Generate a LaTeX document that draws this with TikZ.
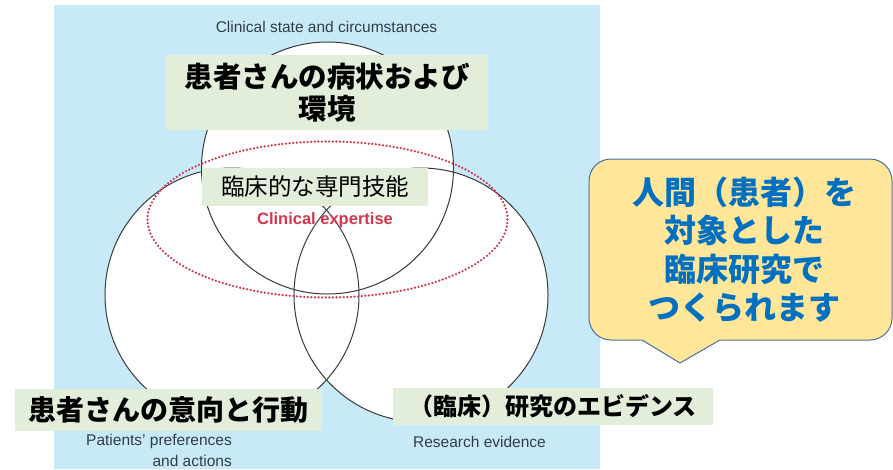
\documentclass[tikz,border=0pt]{standalone}
\usepackage{fontspec}
\setmainfont{Liberation Sans}
\newfontfamily\cjk{Noto Sans CJK JP}
\definecolor{bgblue}{HTML}{C8E9F8}
\definecolor{boxgreen}{HTML}{E2EEDA}
\definecolor{circline}{HTML}{3A3A3A}
\definecolor{dotred}{HTML}{D3364C}
\definecolor{engray}{HTML}{323D47}
\definecolor{callfill}{HTML}{FFE699}
\definecolor{callline}{HTML}{4A6FA5}
\definecolor{callblue}{HTML}{0070C0}
\tikzset{
  circ/.style={draw=circline, line width=1pt},
  reddots/.style={draw=dotred, line width=2.5pt, line cap=round, dash pattern=on 0pt off 3.6pt},
  greenbox/.style={fill=boxgreen, inner sep=0pt, align=center, text=black},
  enlabel/.style={text=engray, inner sep=0pt, font=\fontsize{15.5}{21}\selectfont},
  callbox/.style={fill=callfill, draw=callline, line width=1pt, rounded corners=22pt, inner sep=0pt}
}
\begin{document}
\begin{tikzpicture}[x=1pt,y=-1pt]
\useasboundingbox (0,0) rectangle (893,469);
\fill[bgblue] (54,5) rectangle (600,469);
% circle centres
\coordinate (cT) at (327.5,168);
\coordinate (cL) at (232,295);
\coordinate (cR) at (421,295);
\fill[white] (cT) circle[radius=126] (cL) circle[radius=127] (cR) circle[radius=127];
\draw[circ] (cT) circle[radius=126];
\draw[circ] (cL) circle[radius=127];
\draw[circ] (cR) circle[radius=127];
% clinical expertise ellipse
\coordinate (cE) at (327.5,219.5);
\draw[reddots] (cE) ellipse[x radius=180, y radius=78];
\node[text=dotred, inner sep=0pt, font=\bfseries\fontsize{16.5}{18}\selectfont] (expert) at (325,220.5) {Clinical expertise};
% labels
\node[enlabel] (clin) at (326.5,27) {Clinical state and circumstances};
\node[greenbox, minimum width=322pt, minimum height=75pt, font=\cjk\bfseries\fontsize{28.5}{31.5}\selectfont] (tbox) at (327,92.5) {患者さんの病状および\\環境};
\node[greenbox, minimum width=226pt, minimum height=38pt, font=\cjk\fontsize{23.5}{26}\selectfont] (mbox) at (315,187) {臨床的な専門技能};
\node[greenbox, minimum width=307pt, minimum height=42pt, font=\cjk\bfseries\fontsize{28}{30}\selectfont] (lbox) at (168.5,410) {患者さんの意向と行動};
\node[greenbox, minimum width=320pt, minimum height=37pt, font=\cjk\bfseries\fontsize{24}{26}\selectfont] (rbox) at (553,406.5) {（臨床）研究のエビデンス};
\node[enlabel, align=right, anchor=north east] (pat) at (232,434) {Patients' preferences\\and actions};
\node[enlabel] (res) at (479.5,442) {Research evidence};
% callout
\node[callbox, minimum width=303pt, minimum height=181pt] (callout) at (740.5,249.5) {};
\coordinate (pA) at (642,340);
\coordinate (pT) at (680,363);
\coordinate (pB) at (720,340);
\fill[callfill] (640,338.3) -- (722,338.3) -- (pB) -- (pT) -- (pA) -- cycle;
\draw[draw=callline, line width=1pt] (pA) -- (pT) -- (pB);
\node[text=callblue, align=center, inner sep=0pt, font=\cjk\bfseries\fontsize{32}{38.5}\selectfont] (calltext) at (744,250) {人間（患者）を\\対象とした\\臨床研究で\\つくられます};
\end{tikzpicture}
\end{document}
